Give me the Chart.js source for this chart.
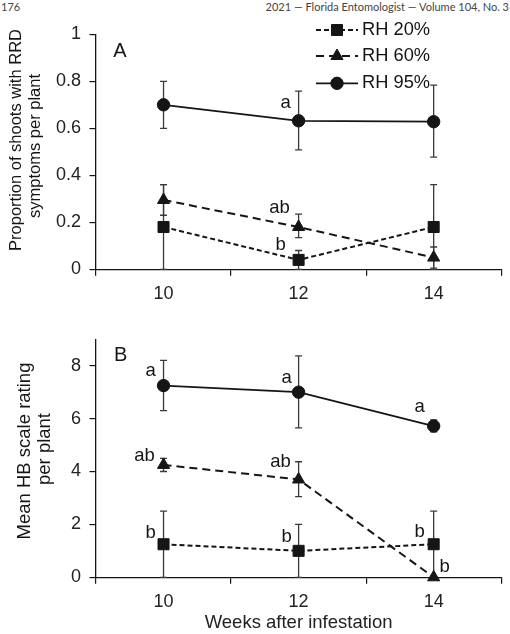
<!DOCTYPE html>
<html><head><meta charset="utf-8">
<script src="https://cdn.jsdelivr.net/npm/chart.js@4.4.1/dist/chart.umd.min.js"></script>
<style>
html,body{margin:0;padding:0;background:#fff;}
#wrap{position:relative;width:510px;height:634px;overflow:hidden;background:#fff;}
.hdr{position:absolute;top:0;font-family:Lato,'Open Sans',sans-serif;font-size:11px;line-height:13px;color:#444;white-space:nowrap;}
#c1box{position:absolute;left:0;top:0;width:510px;height:310px;}
#c2box{position:absolute;left:0;top:310px;width:510px;height:324px;}
</style></head><body>
<div id="wrap">
<div class="hdr" style="left:1px">176</div>
<div class="hdr" style="right:1px">2021 — Florida Entomologist — Volume 104, No. 3</div>
<div id="c1box"><canvas id="c1"></canvas></div>
<div id="c2box"><canvas id="c2"></canvas></div>
</div>
<script>
// ---------- data ----------
const weeks = ['10', '12', '14'];
const seriesNames = ['RH 20%', 'RH 60%', 'RH 95%'];
const xTitle = 'Weeks after infestation';

// Panel A: proportion of shoots with RRD symptoms per plant
const yTitleA = ['Proportion of shoots with RRD', 'symptoms per plant'];
const yTicksA = [0, 0.2, 0.4, 0.6, 0.8, 1];
const yTickLabelsA = ['0', '0.2', '0.4', '0.6', '0.8', '1'];
const rrd20 = [0.18, 0.04, 0.18];
const rrd20Hi = [0.36, 0.08, 0.36];
const rrd20Lo = [0, 0, 0];
const rrd60 = [0.295, 0.18, 0.05];
const rrd60Hi = [0.36, 0.235, 0.095];
const rrd60Lo = [0.23, 0.135, 0.005];
const rrd95 = [0.70, 0.632, 0.628];
const rrd95Hi = [0.80, 0.758, 0.784];
const rrd95Lo = [0.60, 0.508, 0.477];
const lettersA20 = ['', 'b', ''];
const lettersA60 = ['', 'ab', ''];
const lettersA95 = ['', 'a', ''];

// Panel B: mean HB scale rating per plant
const yTitleB = ['Mean HB scale rating', 'per plant'];
const yTicksB = [0, 2, 4, 6, 8];
const yTickLabelsB = ['0', '2', '4', '6', '8'];
const hb20 = [1.25, 1.0, 1.25];
const hb20Hi = [2.5, 2.0, 2.5];
const hb20Lo = [0, 0, 0];
const hb60 = [4.25, 3.7, 0];
const hb60Hi = [4.5, 4.37, 0];
const hb60Lo = [4.0, 3.05, 0];
const hb95 = [7.25, 7.0, 5.72];
const hb95Hi = [8.2, 8.37, 5.95];
const hb95Lo = [6.3, 5.65, 5.5];
const lettersB20 = ['b', 'b', 'b'];
const lettersB60 = ['ab', 'ab', 'b'];
const lettersB95 = ['a', 'a', 'a'];

// ---------- styles ----------
const INK = '#151515';
const FONT = "'Liberation Sans', Arial, sans-serif";
const styles = [
  {pointStyle: 'rect', pointRadius: 7.8, borderDash: [5, 3], borderWidth: 2},
  {pointStyle: 'triangle', pointRadius: 7, borderDash: [8, 5], borderWidth: 2},
  {pointStyle: 'circle', pointRadius: 6.2, borderDash: [], borderWidth: 1.8}
];

function makeDatasets(vals) {
  return vals.map((v, i) => ({
    label: seriesNames[i], data: v,
    borderColor: INK, backgroundColor: INK,
    pointBackgroundColor: INK, pointBorderColor: INK, pointBorderWidth: 1,
    pointStyle: styles[i].pointStyle, pointRadius: styles[i].pointRadius,
    borderDash: styles[i].borderDash, borderWidth: styles[i].borderWidth,
    tension: 0, clip: false, fill: false
  }));
}

function errorBarPlugin(his, los) {
  return {
    id: 'errorBars',
    beforeDatasetsDraw(chart) {
      const ctx = chart.ctx, xs = chart.scales.x, ys = chart.scales.y;
      ctx.save();
      ctx.strokeStyle = '#3a3a3a';
      ctx.lineWidth = 1.3;
      his.forEach((hi, s) => {
        hi.forEach((h, i) => {
          const x = xs.getPixelForValue(i);
          const yh = ys.getPixelForValue(h), yl = ys.getPixelForValue(los[s][i]);
          ctx.beginPath();
          ctx.moveTo(x, yh); ctx.lineTo(x, yl);
          ctx.moveTo(x - 3.5, yh); ctx.lineTo(x + 3.5, yh);
          ctx.moveTo(x - 3.5, yl); ctx.lineTo(x + 3.5, yl);
          ctx.stroke();
        });
      });
      ctx.restore();
    }
  };
}

function textPlugin(letters, offsets, panel, yTitle, yTitlePos, legend) {
  return {
    id: 'texts',
    afterDatasetsDraw(chart) {
      const ctx = chart.ctx, xs = chart.scales.x, ys = chart.scales.y;
      ctx.save();
      ctx.fillStyle = INK;
      ctx.textAlign = 'center';
      ctx.textBaseline = 'middle';
      ctx.font = '18.5px ' + FONT;
      const data = chart.data.datasets;
      letters.forEach((arr, s) => {
        arr.forEach((t, i) => {
          if (!t) return;
          const x = xs.getPixelForValue(i), y = ys.getPixelForValue(data[s].data[i]);
          const o = offsets[s][i];
          ctx.fillText(t, x + o[0], y + o[1]);
        });
      });
      // panel label
      ctx.font = '20px ' + FONT;
      ctx.fillText(panel.text, panel.x, panel.y);
      // y title
      ctx.font = yTitlePos.size + 'px ' + FONT;
      yTitle.forEach((line, k) => {
        ctx.save();
        ctx.translate(yTitlePos.x[k], yTitlePos.y[k]);
        ctx.rotate(-Math.PI / 2);
        ctx.fillText(line, 0, 0);
        ctx.restore();
      });
      // legend
      if (legend) {
        data.forEach((ds, s) => {
          const y = legend.y[s];
          ctx.save();
          ctx.strokeStyle = INK;
          ctx.lineWidth = ds.borderWidth;
          ctx.setLineDash(ds.borderDash);
          ctx.beginPath();
          ctx.moveTo(legend.x0, y); ctx.lineTo(legend.x1, y);
          ctx.stroke();
          ctx.restore();
          ctx.save();
          ctx.fillStyle = INK; ctx.strokeStyle = INK; ctx.lineWidth = 1;
          Chart.helpers.drawPoint(ctx, {pointStyle: ds.pointStyle, radius: ds.pointRadius, rotation: 0, borderWidth: 1}, legend.xm, y);
          ctx.restore();
          ctx.textAlign = 'left';
          ctx.font = '18.3px ' + FONT;
          ctx.fillText(ds.label, legend.xt, y);
        });
      }
      ctx.restore();
    }
  };
}

function scalesFor(yMin, yMax, yTicks, yLabels, xHeight, withTitle) {
  const grid = {display: true, drawOnChartArea: false, drawTicks: true, tickLength: 6.5, color: INK, lineWidth: 1.2};
  return {
    x: {
      type: 'category', offset: true,
      grid: Object.assign({}, grid, {offset: true}),
      border: {display: true, color: INK, width: 1.3},
      ticks: {color: '#222', font: {family: FONT, size: 18}, padding: 7, maxRotation: 0},
      title: withTitle ? {display: true, text: xTitle, color: '#222', font: {family: FONT, size: 18.5}, padding: {top: 0, bottom: 0}} : {display: false},
      afterFit: s => { s.height = xHeight; }
    },
    y: {
      min: yMin, max: yMax,
      grid: grid,
      border: {display: true, color: INK, width: 1.3},
      ticks: {color: '#222', font: {family: FONT, size: 18}, padding: 8.5,
        callback: (v) => { const k = yTicks.indexOf(v); return k >= 0 ? yLabels[k] : String(v); }},
      afterBuildTicks: s => { s.ticks = yTicks.map(v => ({value: v})); },
      afterFit: s => { s.width = 96; }
    }
  };
}

const common = {
  responsive: true, maintainAspectRatio: false, animation: false, devicePixelRatio: 1,
  plugins: {legend: {display: false}, tooltip: {enabled: false}, title: {display: false}}
};

// Chart A
new Chart(document.getElementById('c1'), {
  type: 'line',
  data: {labels: weeks, datasets: makeDatasets([rrd20, rrd60, rrd95])},
  options: Object.assign({}, common, {
    layout: {padding: {left: 0, right: 6, top: 34.3, bottom: 0}},
    scales: scalesFor(0, 1, yTicksA, yTickLabelsA, 40.7, false)
  }),
  plugins: [
    errorBarPlugin([rrd20Hi, rrd60Hi, rrd95Hi], [rrd20Lo, rrd60Lo, rrd95Lo]),
    textPlugin([lettersA20, lettersA60, lettersA95],
      [[[0,0],[-18,-15],[0,0]], [[0,0],[-19,-19],[0,0]], [[0,0],[-13,-18],[0,0]]],
      {text: 'A', x: 120, y: 51.7}, yTitleA, {size: 16.5, x: [16, 35], y: [140, 146]},
      {x0: 316, x1: 358, xm: 337, xt: 362, y: [30, 56, 83.3]})
  ]
});

// Chart B
new Chart(document.getElementById('c2'), {
  type: 'line',
  data: {labels: weeks, datasets: makeDatasets([hb20, hb60, hb95])},
  options: Object.assign({}, common, {
    layout: {padding: {left: 0, right: 6, top: 29.3, bottom: 0}},
    scales: scalesFor(0, 9, yTicksB, yTickLabelsB, 56.7, true)
  }),
  plugins: [
    errorBarPlugin([hb20Hi, hb60Hi, hb95Hi], [hb20Lo, hb60Lo, hb95Lo]),
    textPlugin([lettersB20, lettersB60, lettersB95],
      [[[-13,-11],[-12,-14],[-14,-12]], [[-19,-9],[-18,-18],[11,-10]], [[-13,-15],[-12,-14],[-14,-19]]],
      {text: 'B', x: 120.7, y: 45}, yTitleB, {size: 18.5, x: [25, 45], y: [141, 139]},
      null)
  ]
});
</script>
</body></html>
